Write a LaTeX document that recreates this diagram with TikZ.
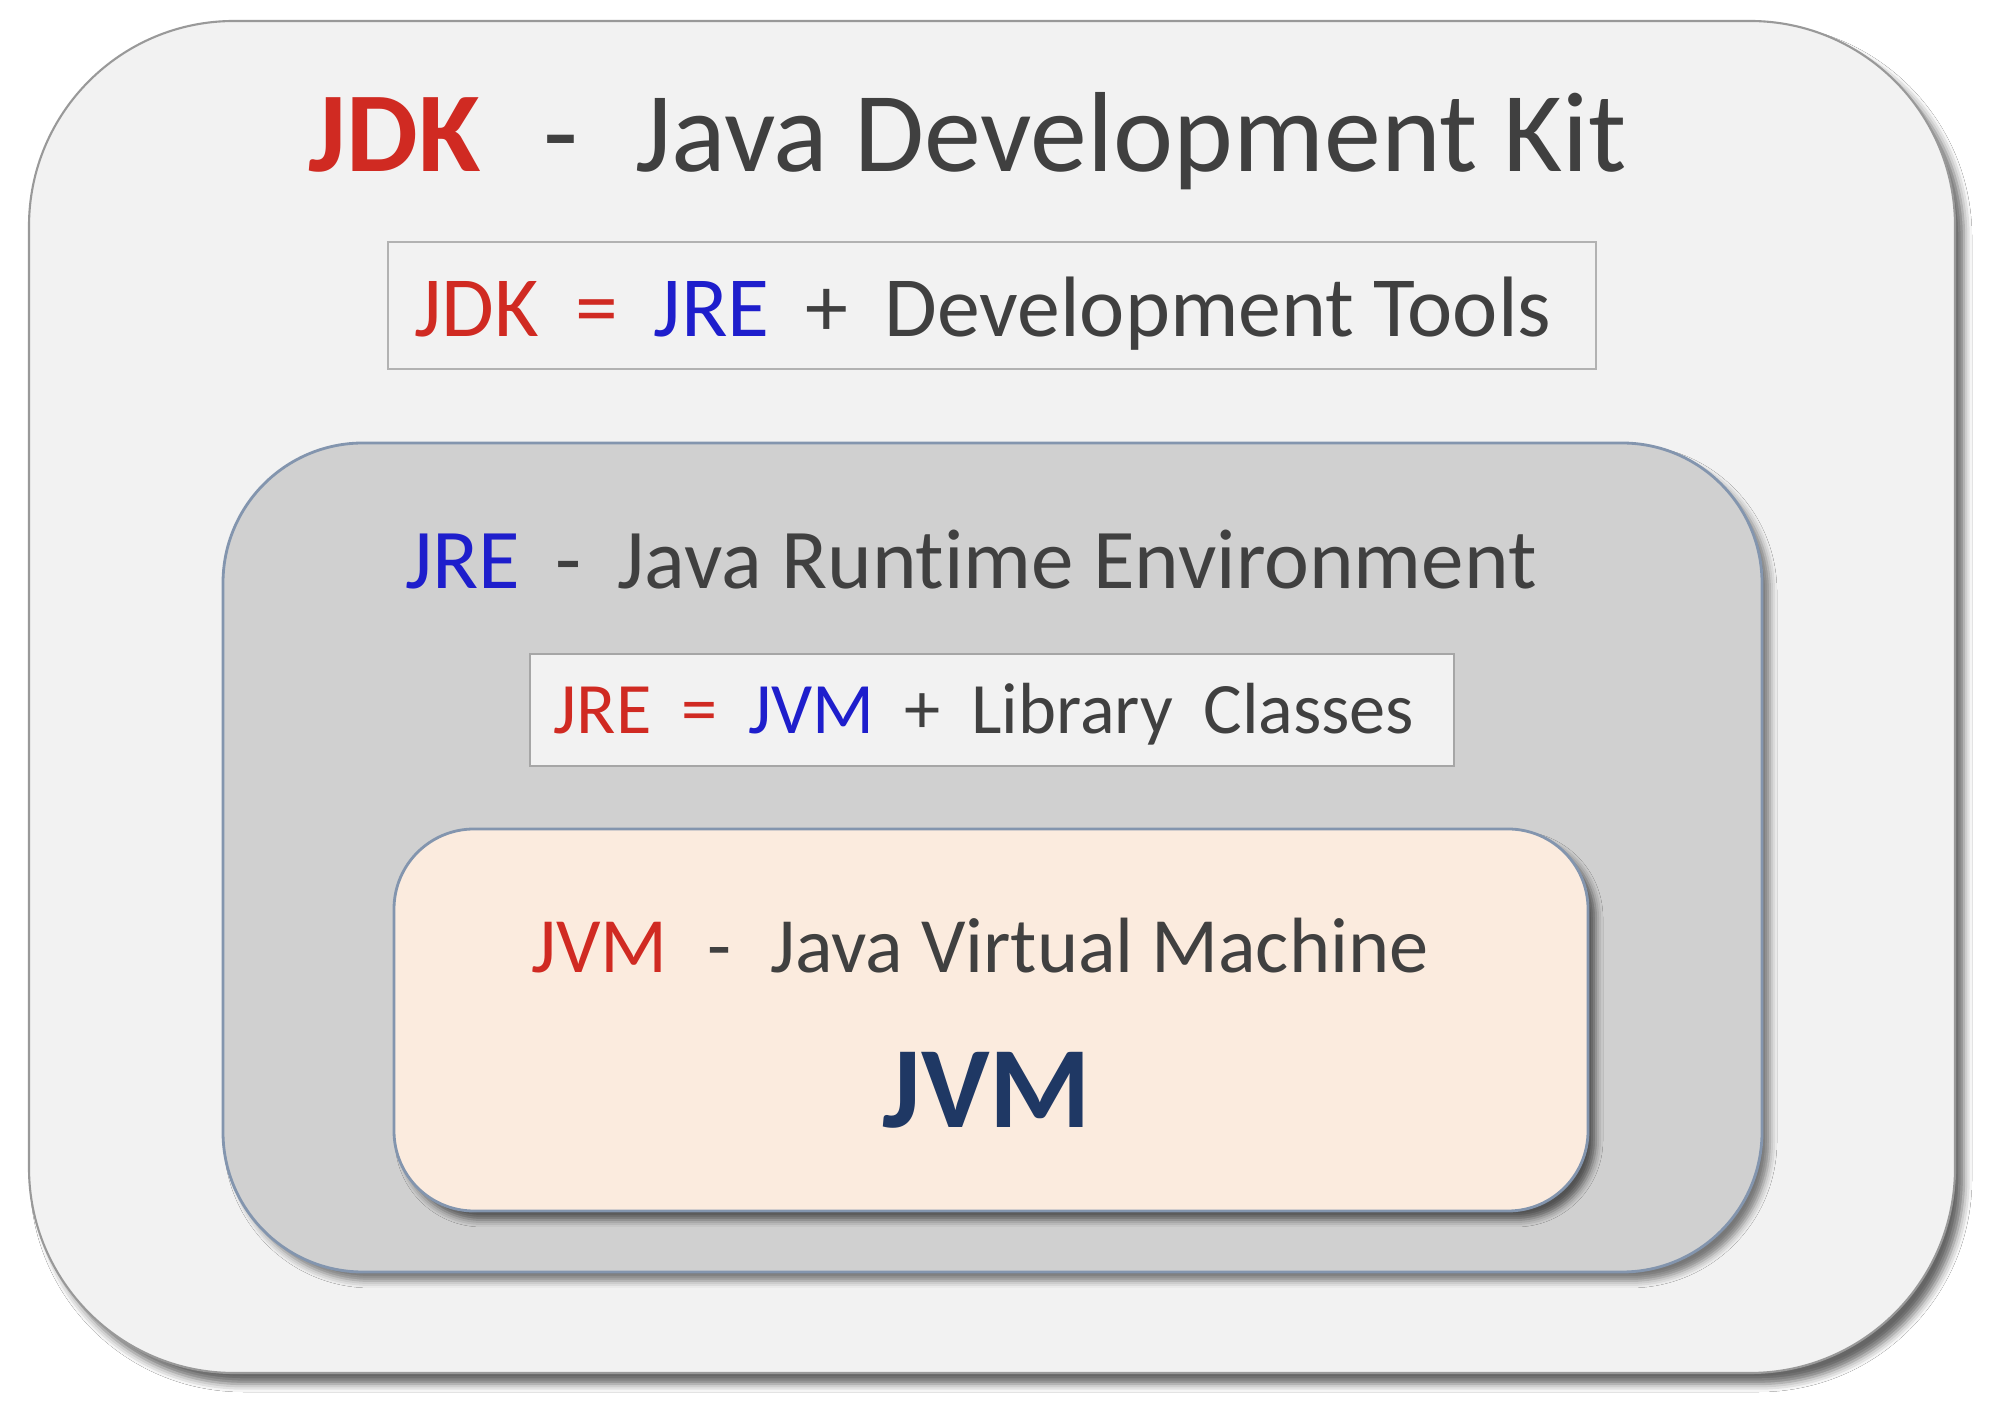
\documentclass[tikz,border=0pt]{standalone}
\usepackage{fontspec}
\setmainfont{Carlito}[Ligatures=CommonOff]
\usepackage{xcolor}
\usetikzlibrary{shadows.blur}
\definecolor{jred}{HTML}{D02A22}
\definecolor{jblue}{HTML}{1E1ECC}
\definecolor{jgray}{HTML}{404040}
\definecolor{jnavy}{HTML}{1F3864}
\definecolor{jdkfill}{HTML}{F2F2F2}
\definecolor{jrefill}{HTML}{D0D0D0}
\definecolor{jvmfill}{HTML}{FBEBDE}
\definecolor{jborder}{HTML}{8395AE}

\newcommand{\gap}{\hspace{0.42em}}

\tikzset{
  kitbox/.style={draw=gray!80,line width=0.6pt,fill=jdkfill,rounded corners=2.05cm,
    blur shadow={shadow xshift=0.09cm,shadow yshift=-0.11cm,shadow blur radius=0.08cm,shadow opacity=60}},
  runbox/.style={draw=jborder,line width=0.8pt,fill=jrefill,rounded corners=1.4cm,
    blur shadow={shadow xshift=0.08cm,shadow yshift=-0.09cm,shadow blur radius=0.07cm,shadow opacity=50}},
  vmbox/.style={draw=jborder,line width=0.8pt,fill=jvmfill,rounded corners=0.8cm,
    blur shadow={shadow xshift=0.08cm,shadow yshift=-0.09cm,shadow blur radius=0.07cm,shadow opacity=60}},
  eqbox/.style={draw=gray!60,line width=0.6pt,fill=jdkfill},
  label/.style={anchor=base,inner sep=0pt,text=jgray}
}

\begin{document}
\begin{tikzpicture}
\useasboundingbox (0,0) rectangle (19.92,14);
\fill[white] (0,0) rectangle (19.92,14);

 % JDK
 \draw[kitbox] (0.29,0.27) rectangle (19.55,13.79);
 \node[label,font=\fontsize{32.4}{40}\selectfont] (jdktitle) at (9.68,12.28)
   {\textcolor{jred}{\bfseries JDK}\hspace{0.55em}-\hspace{0.5em}Java Development Kit};
 \draw[eqbox] (3.88,10.31) rectangle (15.96,11.58);
 \node[label,font=\fontsize{24.4}{30}\selectfont] (jdkeq) at (9.83,10.63)
   {\textcolor{jred}{JDK\gap=}\gap\textcolor{jblue}{JRE}\gap+\gap Development Tools};

 % JRE
 \draw[runbox] (2.23,1.28) rectangle (17.62,9.57);
 \node[label,font=\fontsize{24.2}{30}\selectfont] (jretitle) at (9.71,8.11)
   {\textcolor{jblue}{JRE}\gap-\gap Java Runtime Environment};
 \draw[eqbox,draw=gray!70] (5.30,6.34) rectangle (14.54,7.46);
 \node[label,font=\fontsize{20.6}{25}\selectfont] (jreeq) at (9.84,6.66)
   {\textcolor{jred}{JRE\gap=}\gap\textcolor{jblue}{JVM}\gap+\gap Library\gap Classes};

 % JVM
 \draw[vmbox] (3.94,1.89) rectangle (15.88,5.71);
 \node[label,font=\fontsize{22.3}{27}\selectfont] (jvmtitle) at (9.80,4.27)
   {\textcolor{jred}{JVM}\enspace-\enspace Java Virtual Machine};
 \node[label,text=jnavy,font=\fontsize{33}{40}\selectfont\bfseries] (jvm) at (9.87,2.72) {JVM};
\end{tikzpicture}
\end{document}
